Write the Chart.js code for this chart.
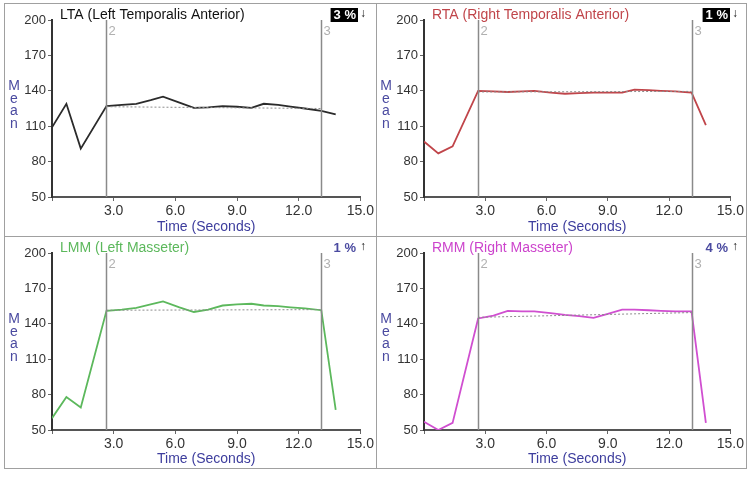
<!DOCTYPE html>
<html>
<head>
<meta charset="utf-8">
<script src="https://cdn.jsdelivr.net/npm/chart.js@4/dist/chart.umd.min.js"></script>
<style>
  body { margin: 0; background: #fff; }
  #grid {
    position: absolute; left: 4px; top: 3px;
    width: 741px; height: 464px;
    border: 1px solid #a0a0a0; background: #a0a0a0;
    display: grid;
    grid-template-columns: 371px 369px;
    grid-template-rows: 232px 231px;
    gap: 1px;
  }
  .cell { background: #fff; }
  canvas { display: block; }
</style>
</head>
<body>
<div id="grid">
  <div class="cell"><canvas id="lta" width="371" height="232"></canvas></div>
  <div class="cell"><canvas id="rta" width="369" height="232"></canvas></div>
  <div class="cell"><canvas id="lmm" width="371" height="231"></canvas></div>
  <div class="cell"><canvas id="rmm" width="369" height="231"></canvas></div>
</div>
<script>
// seconds
const times = [0, 0.7, 1.4, 2.65, 3.4, 4.1, 4.8, 5.4, 6.2, 6.9, 7.6, 8.3, 9.0, 9.7, 10.3, 11.0, 11.6, 12.3, 13.1, 13.8];

const ltaMean = [109, 129, 91, 127, 128, 129, 132, 135, 130, 125.5, 126, 127, 126.5, 125.5, 129, 128, 126.5, 125, 123, 120];
const rtaMean = [97, 87, 93, 140, 139.5, 139, 139.5, 140, 138.5, 137.5, 138, 138.5, 138.5, 138.5, 141, 140.5, 140, 139.5, 138.5, 111];
const lmmMean = [60, 78, 69, 151, 152, 153.5, 156.5, 159, 154, 150, 152, 155.5, 156.5, 157, 155.5, 155, 154, 153, 151.5, 67];
const rmmMean = [57, 50, 56, 144.5, 147, 151, 150.5, 150.5, 149, 147.5, 146.5, 145, 148.5, 152, 152, 151.5, 151, 150.5, 150.5, 56];

// dotted reference line between the two markers (start, end)
const ltaTrend = [126.5, 125];
const rtaTrend = [139, 139.5];
const lmmTrend = [151.5, 152];
const rmmTrend = [145.5, 149.5];

const markerTimes = [2.65, 13.1];
const markerLabels = ["2", "3"];

const percents = ["3 %", "1 %", "1 %", "4 %"];

const FONT = "Arial, 'Liberation Sans', sans-serif";

const panelPlugin = {
  id: "panel",
  afterDraw(chart, args, opts) {
    const ctx = chart.ctx;
    const area = chart.chartArea;
    const x = chart.scales.x;
    ctx.save();

    // marker lines
    markerTimes.forEach((t, i) => {
      const px = Math.round(x.getPixelForValue(t)) + 0.5;
      ctx.strokeStyle = "#8a8a8a";
      ctx.lineWidth = 1.5;
      ctx.beginPath();
      ctx.moveTo(px, area.top);
      ctx.lineTo(px, area.bottom);
      ctx.stroke();
      ctx.fillStyle = "#b0b0b0";
      ctx.font = "13px " + FONT;
      ctx.textAlign = "left";
      ctx.textBaseline = "middle";
      ctx.fillText(markerLabels[i], px + 2, area.top + 11);
    });

    // title
    ctx.font = "14px " + FONT;
    ctx.textAlign = "left";
    ctx.textBaseline = "middle";
    ctx.fillStyle = opts.titleColor;
    ctx.fillText(opts.title, 55, 11);

    // percentage badge
    ctx.font = "bold 13px " + FONT;
    const w = ctx.measureText(opts.percent).width;
    const bx = 351 - w;
    if (opts.boxed) {
      ctx.fillStyle = "#000";
      ctx.fillRect(bx - 3, 4, w + 5, 14);
      ctx.fillStyle = "#fff";
    } else {
      ctx.fillStyle = "#4a4aa0";
    }
    ctx.fillText(opts.percent, bx, 11);
    ctx.fillStyle = "#111";
    ctx.font = "12px " + FONT;
    ctx.fillText(opts.up ? "\u2191" : "\u2193", 355, 10);

    // stacked y title
    ctx.fillStyle = "#4a4aa0";
    ctx.font = "14px " + FONT;
    ctx.textAlign = "center";
    "Mean".split("").forEach((ch, i) => {
      ctx.fillText(ch, 9, area.top + 66 + i * 12.7);
    });

    ctx.restore();
  }
};

function makePanel(id, values, trend, color, title, titleColor, percent, boxed, up) {
  const points = times.map((t, i) => ({ x: t, y: values[i] }));
  const trendPoints = [
    { x: markerTimes[0], y: trend[0] },
    { x: markerTimes[1], y: trend[1] }
  ];
  const canvas = document.getElementById(id);
  return new Chart(canvas, {
    type: "line",
    data: {
      datasets: [
        {
          data: trendPoints,
          borderColor: "#8c8c8c",
          borderWidth: 1,
          borderDash: [2, 2],
          pointRadius: 0,
          tension: 0
        },
        {
          data: points,
          borderColor: color,
          borderWidth: 1.8,
          pointRadius: 0,
          tension: 0
        }
      ]
    },
    options: {
      responsive: false,
      animation: false,
      devicePixelRatio: 1,
      layout: {
        padding: { left: 7, right: canvas.width - 358, top: 16, bottom: 0 }
      },
      scales: {
        x: {
          type: "linear",
          min: 0,
          max: 15,
          afterFit(scale) { scale.height = canvas.height - 193; },
          border: { color: "#555", width: 2 },
          grid: { drawOnChartArea: false, tickLength: 4, color: "#666" },
          ticks: {
            stepSize: 3,
            maxRotation: 0,
            padding: 2,
            color: "#333",
            font: { family: FONT, size: 14 },
            callback: (v) => (v === 0 ? "" : v.toFixed(1))
          },
          title: {
            display: true,
            text: "Time (Seconds)",
            color: "#3d3d9d",
            font: { family: FONT, size: 14 },
            padding: { top: 0, bottom: 0 }
          }
        },
        y: {
          min: 50,
          max: 200,
          afterFit(scale) { scale.width = 40; },
          border: { color: "#333", width: 2 },
          grid: { drawOnChartArea: false, tickLength: 4, color: "#666" },
          ticks: {
            stepSize: 30,
            padding: 2,
            color: "#333",
            font: { family: FONT, size: 13 }
          }
        }
      },
      plugins: {
        legend: { display: false },
        tooltip: { enabled: false },
        panel: { title, titleColor, percent, boxed, up }
      }
    },
    plugins: [panelPlugin]
  });
}

makePanel("lta", ltaMean, ltaTrend, "#2b2b2b", "LTA (Left Temporalis Anterior)", "#111", percents[0], true, false);
makePanel("rta", rtaMean, rtaTrend, "#c0454a", "RTA (Right Temporalis Anterior)", "#c0454a", percents[1], true, false);
makePanel("lmm", lmmMean, lmmTrend, "#5cb85c", "LMM (Left Masseter)", "#5cb85c", percents[2], false, true);
makePanel("rmm", rmmMean, rmmTrend, "#d04fd0", "RMM (Right Masseter)", "#cc44cc", percents[3], false, true);
</script>
</body>
</html>
